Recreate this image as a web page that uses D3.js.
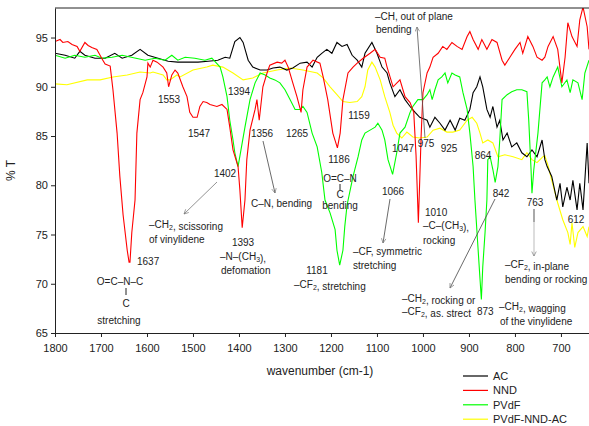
<!DOCTYPE html>
<html>
<head>
<meta charset="utf-8">
<script src="https://cdn.jsdelivr.net/npm/d3@7"></script>
<style>
  body { margin: 0; background: #fff; }
  text { font-family: "Liberation Sans", Arial, sans-serif; fill: #222; }
</style>
</head>
<body>
<div id="dataviz"></div>
<script>
// spectra: [wavenumber, %T]
var ac = [[1800,93.4],[1778,93.2],[1757,92.9],[1746,93.6],[1735,93.2],[1713,92.9],[1691,92.9],[1670,93.4],[1654,92.9],[1633,93.2],[1615,93.8],[1598,93.2],[1576,92.9],[1554,92.6],[1533,92.5],[1511,92.5],[1489,92.5],[1467,92.6],[1446,92.7],[1430,93.0],[1420,92.9],[1409,94.6],[1398,95.0],[1391,94.5],[1380,92.7],[1370,92.0],[1354,91.7],[1339,91.7],[1326,91.9],[1311,92.0],[1296,91.7],[1283,91.9],[1267,92.4],[1252,92.5],[1241,92.0],[1230,93.0],[1220,93.4],[1209,93.8],[1198,93.4],[1187,94.5],[1176,94.1],[1165,94.3],[1154,93.2],[1143,92.7],[1133,92.0],[1126,93.4],[1111,94.5],[1100,93.4],[1089,92.0],[1078,91.4],[1072,90.4],[1061,89.0],[1050,89.7],[1039,88.7],[1028,88.0],[1017,87.4],[1007,86.9],[991,86.6],[985,85.9],[974,86.9],[963,86.3],[952,85.6],[941,86.6],[930,85.6],[920,86.8],[909,86.6],[898,87.7],[891,89.4],[883,90.0],[876,91.0],[870,90.0],[861,87.7],[854,86.9],[848,88.0],[839,85.9],[833,86.6],[826,84.6],[817,85.3],[807,83.9],[796,84.3],[785,83.3],[774,82.9],[763,83.6],[752,82.9],[741,84.6],[735,82.6],[730,81.9],[720,80.9],[709,78.5],[702,80.2],[696,77.8],[687,79.8],[680,78.5],[674,80.5],[665,77.5],[659,80.2],[652,77.5],[643,84.3],[639,80.2]];

var nnd = [[1800,94.6],[1789,94.8],[1783,94.5],[1772,94.6],[1763,94.3],[1752,94.1],[1746,93.6],[1735,94.5],[1728,94.2],[1720,94.0],[1709,93.8],[1702,93.2],[1696,92.7],[1691,92.3],[1680,92.1],[1674,89.7],[1665,85.3],[1659,80.9],[1652,77.0],[1643,73.4],[1639,72.2],[1637,72.2],[1633,75.2],[1626,78.5],[1622,85.3],[1615,88.7],[1609,89.4],[1600,91.0],[1598,92.4],[1593,92.0],[1587,92.7],[1578,92.5],[1565,92.0],[1557,91.4],[1553,90.0],[1546,91.2],[1539,91.7],[1533,91.4],[1522,90.0],[1513,89.0],[1507,87.4],[1500,86.9],[1491,86.9],[1485,88.0],[1478,88.5],[1470,88.4],[1463,88.2],[1448,88.0],[1437,88.2],[1426,87.7],[1420,85.9],[1413,83.6],[1402,81.9],[1398,79.5],[1393,75.7],[1387,78.5],[1383,82.6],[1376,85.6],[1365,87.7],[1361,88.7],[1356,86.6],[1348,90.0],[1339,91.4],[1333,92.2],[1317,92.5],[1307,92.4],[1300,92.7],[1293,92.0],[1283,90.4],[1274,89.0],[1265,87.4],[1261,89.7],[1252,92.0],[1239,92.7],[1224,92.4],[1217,91.0],[1207,88.7],[1196,85.3],[1186,83.8],[1180,85.3],[1174,88.7],[1163,91.4],[1152,92.0],[1143,92.4],[1130,92.9],[1115,93.4],[1104,93.8],[1093,93.0],[1083,92.9],[1078,92.0],[1065,90.0],[1050,90.7],[1039,89.0],[1028,88.4],[1020,87.4],[1015,83.0],[1012,79.0],[1010,76.2],[1007,80.5],[1004,85.0],[1000,89.4],[991,91.4],[985,92.0],[978,93.0],[967,93.4],[957,94.1],[948,93.8],[937,94.5],[926,94.1],[915,93.8],[904,95.1],[898,95.6],[891,94.8],[880,93.8],[872,94.8],[861,93.8],[850,94.8],[839,94.5],[828,92.7],[822,92.2],[811,93.0],[800,93.8],[789,94.5],[783,93.4],[772,95.1],[761,94.1],[752,93.0],[741,92.7],[735,93.0],[728,94.1],[717,95.1],[707,93.8],[698,90.4],[691,93.0],[685,96.5],[676,95.1],[665,94.1],[659,96.8],[652,98.1],[643,96.1],[639,93.8]];

var pvdf = [[1800,93.2],[1778,92.9],[1757,93.2],[1735,93.0],[1713,93.2],[1698,92.9],[1676,93.0],[1654,93.2],[1624,92.9],[1604,92.7],[1583,92.9],[1561,92.7],[1546,93.2],[1533,92.7],[1517,93.0],[1496,92.9],[1474,92.7],[1459,92.9],[1441,92.0],[1435,91.0],[1426,89.0],[1420,86.6],[1413,84.6],[1409,83.3],[1402,81.9],[1393,84.3],[1387,85.9],[1376,88.7],[1365,90.4],[1354,91.4],[1343,91.2],[1333,90.9],[1322,90.7],[1311,90.4],[1300,89.7],[1289,88.7],[1278,87.7],[1267,87.7],[1261,88.0],[1252,87.4],[1241,85.3],[1230,83.9],[1220,81.3],[1213,78.5],[1202,77.2],[1191,75.5],[1187,73.4],[1181,71.9],[1174,73.4],[1170,75.8],[1165,78.0],[1152,80.9],[1141,82.9],[1133,84.6],[1126,85.3],[1115,85.6],[1104,85.9],[1098,86.3],[1089,85.6],[1083,84.6],[1076,82.6],[1066,81.1],[1057,83.3],[1050,85.3],[1039,85.9],[1028,87.4],[1022,88.0],[1011,88.7],[1000,88.7],[991,89.2],[985,89.7],[980,88.7],[974,89.7],[967,90.7],[959,91.0],[952,91.4],[946,90.4],[937,91.4],[930,91.2],[920,91.0],[913,89.4],[904,87.7],[898,85.3],[891,81.9],[887,78.5],[880,73.4],[876,70.5],[873,68.4],[870,71.7],[865,75.2],[861,78.5],[859,82.6],[854,82.9],[848,81.6],[843,80.3],[837,81.9],[833,84.6],[828,88.7],[817,89.2],[807,89.5],[796,89.7],[785,89.7],[774,89.5],[770,86.6],[765,81.6],[763,79.2],[759,81.6],[750,85.3],[741,90.4],[735,90.7],[730,91.0],[724,90.0],[717,91.0],[707,92.0],[698,90.0],[687,90.7],[680,89.4],[674,90.7],[663,90.4],[654,88.7],[648,91.4],[639,92.7]];

var blend = [[1800,90.3],[1774,90.2],[1730,90.7],[1702,90.7],[1674,91.0],[1643,91.2],[1615,91.5],[1593,91.4],[1587,91.5],[1565,91.2],[1557,90.7],[1550,90.7],[1535,91.2],[1528,91.0],[1500,91.7],[1470,92.0],[1457,92.2],[1435,92.0],[1413,91.4],[1391,90.7],[1370,90.9],[1348,91.4],[1317,91.7],[1289,91.9],[1261,91.7],[1230,91.4],[1217,90.9],[1202,90.0],[1187,89.2],[1174,88.5],[1159,88.4],[1143,88.5],[1133,89.0],[1126,90.0],[1120,91.7],[1111,92.5],[1104,92.0],[1093,90.7],[1083,89.0],[1072,87.4],[1065,86.1],[1057,85.3],[1046,84.8],[1035,85.4],[1022,84.9],[1007,84.8],[991,84.9],[978,85.6],[963,85.8],[948,85.4],[935,85.4],[920,85.6],[904,86.6],[893,86.9],[883,86.3],[876,85.3],[870,84.3],[859,84.6],[848,84.3],[837,82.9],[822,83.1],[804,82.9],[785,82.6],[774,83.3],[763,82.6],[752,82.3],[739,82.9],[735,83.0],[728,82.0],[720,80.5],[707,78.2],[696,76.5],[685,75.2],[680,74.0],[676,76.2],[670,73.7],[663,75.2],[652,75.8],[643,74.8],[639,75.8]];

var seriesNames = ["AC", "NND", "PVdF", "PVdF-NND-AC"];
var seriesColors = ["#000000", "#ff0000", "#00ff00", "#ffff00"];
var xTicks = [1800, 1700, 1600, 1500, 1400, 1300, 1200, 1100, 1000, 900, 800, 700];
var yTicks = [65, 70, 75, 80, 85, 90, 95];

var margin = {top: 8, right: 0, bottom: 93, left: 55},
  width = 589 - margin.left - margin.right,
  height = 426 - margin.top - margin.bottom;

var svg = d3.select("#dataviz")
.append("svg")
  .attr("width", width + margin.left + margin.right)
  .attr("height", height + margin.top + margin.bottom)
.append("g")
  .attr("transform", "translate(" + margin.left + "," + margin.top + ")");

var x = d3.scaleLinear().domain([1800, 639]).range([0, width]);
var y = d3.scaleLinear().domain([65, 98]).range([height, 0]);

svg.append("clipPath").attr("id", "clip")
  .append("rect").attr("width", width).attr("height", height);

// draw order: yellow first, black on top
var allSeries = [ac, nnd, pvdf, blend];
var order = [3, 0, 2, 1];
var line = d3.line().x(d => x(d[0])).y(d => y(d[1]));
order.forEach(function(i) {
  svg.append("path")
    .datum(allSeries[i])
    .attr("clip-path", "url(#clip)")
    .attr("fill", "none")
    .attr("stroke", seriesColors[i])
    .attr("stroke-width", 1.1)
    .attr("d", line);
});

// axes
var xAxis = svg.append("g")
  .attr("transform", "translate(0," + height + ")")
  .call(d3.axisBottom(x).tickValues(xTicks).tickFormat(d3.format("d")).tickSize(4).tickSizeOuter(0));
var yAxis = svg.append("g")
  .call(d3.axisLeft(y).tickValues(yTicks).tickFormat(d3.format("d")).tickSize(4).tickSizeOuter(0));
[xAxis, yAxis].forEach(function(a) {
  a.selectAll("text").style("font-size", "11px").style("font-family", "Liberation Sans, Arial, sans-serif").attr("fill", "#222");
  a.selectAll("path, line").attr("stroke", "#222");
});
xAxis.selectAll("text").attr("dy", "1.05em");
svg.append("line").attr("x1", 0).attr("x2", width).attr("y1", 0).attr("y2", 0).attr("stroke", "#222");

svg.append("text")
  .attr("x", width / 2 - 2).attr("y", height + 42)
  .attr("text-anchor", "middle").style("font-size", "12px")
  .text("wavenumber (cm-1)");
svg.append("text")
  .attr("transform", "translate(-40," + (height / 2) + ") rotate(-90)")
  .attr("text-anchor", "middle").style("font-size", "12px")
  .text("% T");

// legend
var legend = svg.append("g").attr("transform", "translate(408,368)");
seriesNames.forEach(function(n, i) {
  legend.append("line").attr("x1", 0).attr("x2", 25)
    .attr("y1", i * 14.4).attr("y2", i * 14.4)
    .attr("stroke", seriesColors[i]).attr("stroke-width", 1.2);
  legend.append("text").attr("x", 30).attr("y", i * 14.4 + 4)
    .style("font-size", "11px").text(n);
});

// annotations (page pixel coordinates)
var ann = svg.append("g").attr("transform", "translate(" + (-margin.left) + "," + (-margin.top) + ")")
  .style("font-size", "10px");

svg.append("defs").append("marker")
  .attr("id", "arr").attr("viewBox", "0 0 10 10").attr("refX", 9).attr("refY", 5)
  .attr("markerWidth", 7).attr("markerHeight", 7).attr("orient", "auto")
  .append("path").attr("d", "M1,1 L9,5 L1,9").attr("fill", "none").attr("stroke", "#777").attr("stroke-width", 1.2);

function label(px, py, parts, anchor) {
  var t = ann.append("text").attr("x", px).attr("y", py).attr("text-anchor", anchor || "start");
  parts.forEach(function(p) {
    if (typeof p === "string") t.append("tspan").text(p);
    else t.append("tspan").attr("dy", 2).style("font-size", "7px").text(p.sub)
      .clone().attr("dy", -2).style("font-size", "10px").text("");
  });
  return t;
}
function arrow(x1, y1, x2, y2, col) {
  ann.append("line").attr("x1", x1).attr("y1", y1).attr("x2", x2).attr("y2", y2)
    .attr("stroke", col || "#777").attr("stroke-width", 0.8).attr("marker-end", "url(#arr)");
}

label(169, 103, ["1553"], "middle");
label(199, 137, ["1547"], "middle");
label(239, 95, ["1394"], "middle");
label(262, 137, ["1356"], "middle");
label(297, 137, ["1265"], "middle");
label(359, 119, ["1159"], "middle");
label(339, 163, ["1186"], "middle");
label(340, 182, ["O=C–N"], "middle");
ann.append("line").attr("x1", 340).attr("x2", 340).attr("y1", 184).attr("y2", 190).attr("stroke", "#222");
label(340, 198, ["C"], "middle");
label(340, 209, ["bending"], "middle");
label(225, 177, ["1402"], "middle");
arrow(217, 182, 184, 214);
label(149, 228, ["–CH", {sub: "2"}, ", scissoring"]);
label(149, 243, ["of vinylidene"]);
arrow(263, 141, 275, 193, "#444");
label(251, 207, ["C–N, bending"]);
label(137, 265, ["1637"]);
label(120, 285, ["O=C–N–C"], "middle");
ann.append("line").attr("x1", 126).attr("x2", 126).attr("y1", 288).attr("y2", 295).attr("stroke", "#222");
label(126, 307, ["C"], "middle");
label(119, 324, ["stretching"], "middle");
label(243, 246, ["1393"], "middle");
label(220, 260, ["–N–(CH", {sub: "3"}, "),"]);
label(221, 274, ["defomation"]);
label(317, 274, ["1181"], "middle");
label(294, 288, ["–CF", {sub: "2"}, ", stretching"]);
label(403, 152, ["1047"], "middle");
label(426, 147, ["975"], "middle");
label(449, 152, ["925"], "middle");
label(483, 159, ["864"], "middle");
label(393, 195, ["1066"], "middle");
arrow(390, 199, 383, 243, "#444");
label(353, 255, ["–CF, symmetric"]);
label(353, 269, ["stretching"]);
label(425, 216, ["1010"]);
label(423, 229, ["–C–(CH", {sub: "3"}, "),"]);
label(423, 244, ["rocking"]);
label(501, 197, ["842"], "middle");
arrow(495, 199, 450, 288, "#444");
label(402, 302, ["–CH", {sub: "2"}, ", rocking or"]);
label(402, 315, ["–CF", {sub: "2"}, ", as. strect"]);
label(477, 315, ["873"]);
label(499, 310, ["–CH", {sub: "2"}, ", wagging"]);
label(500, 325, ["of the vinylidene"]);
label(535, 206, ["763"], "middle");
ann.append("line").attr("x1", 534).attr("x2", 534).attr("y1", 209).attr("y2", 222).attr("stroke", "#aaa").attr("stroke-width", 2);
arrow(534, 209, 534, 256, "#aaa");
label(505, 268, ["–CF", {sub: "2"}, ", in-plane"]);
label(505, 283, ["bending or rocking"]);
label(576, 223, ["612"], "middle");
label(375, 20, ["–CH, out of plane"]);
label(376, 33, ["bending"]);
arrow(425, 138, 417, 27, "#555");
</script>
</body>
</html>
